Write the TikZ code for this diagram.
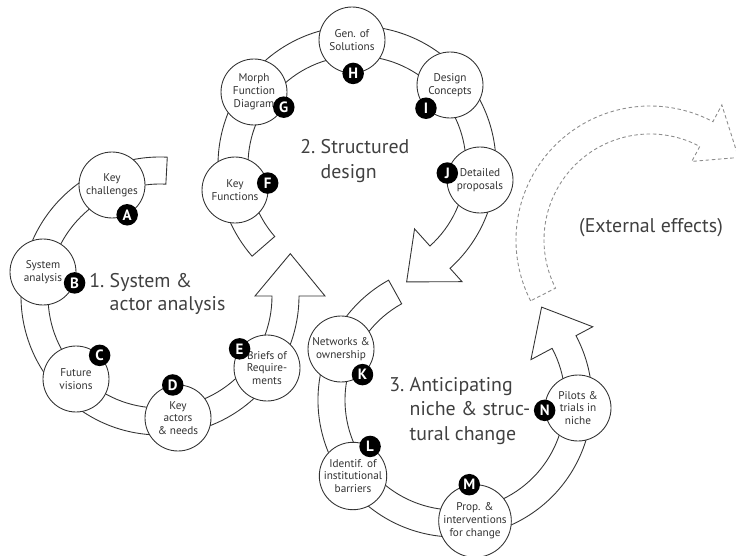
\documentclass[tikz,border=0pt]{standalone}
\usepackage{fontspec}
\setmainfont{PT Sans}

\begin{document}
\begin{tikzpicture}[x=0.02cm, y=0.02cm,
    stage/.style={circle, draw=black!80, fill=white, line width=0.5pt, minimum size=1.32cm, inner sep=0pt, align=center, text=black!80, font=\fontsize{6.4}{7.3}\selectfont},
    badge/.style={circle, fill=black, text=white, minimum size=0.43cm, inner sep=0pt, font=\bfseries\fontsize{8.5}{8.5}\selectfont},
    band/.style={draw=black!80, fill=white, line width=0.5pt},
    title/.style={align=left, anchor=west, inner sep=0pt, text=black!75, font=\fontsize{11.3}{14.2}\selectfont}]
            \useasboundingbox (0,0) rectangle (736,555);
            \clip (0,0) rectangle (736,555);

            %Arrows
            \draw[band, shift={(160,259)}] (87:139) arc[start angle=87, end angle=360, radius=139] -- (0:165) -- (18:137) -- (0:95) -- (0:112) arc[start angle=360, end angle=87, radius=112] -- cycle;
            \draw[band, shift={(357,390)}] (221:139) arc[start angle=221, end angle=-48, radius=139] -- (-48:157) -- (-67:127) -- (-48:86) -- (-48:109) arc[start angle=-48, end angle=221, radius=109] -- cycle;
            \draw[band, shift={(455,155)}] (119:137) arc[start angle=119, end angle=388, radius=137] -- (388:156) -- (407:127) -- (388:86) -- (388:110) arc[start angle=388, end angle=119, radius=110] -- cycle;
            \draw[band, draw=black!45, dash pattern=on 2pt off 1.5pt, shift={(650,315)}] (207:134) arc[start angle=207, end angle=62, radius=134] -- (62:153) -- (43:121) -- (62:89) -- (62:106) arc[start angle=62, end angle=207, radius=106] -- cycle;

            %Nodes
            \node[stage] (A) at (112,370) {Key\\challenges};
            \node[stage] (B) at (43,283) {System\\analysis};
            \node[stage] (C) at (76,176) {Future\\visions};
            \node[stage] (D) at (178,137) {Key\\actors\\\& needs};
            \node[stage] (E) at (267,187) {Briefs of\\Require-\\ments};
            \node[stage] (F) at (235,365) {Key\\Functions};
            \node[stage] (G) at (254,463) {Morph\\Function\\Diagram};
            \node[stage] (H) at (352,515) {Gen. of\\Solutions};
            \node[stage] (I) at (450,470) {Design\\Concepts};
            \node[stage] (J) at (480,375) {Detailed\\proposals};
            \node[stage] (K) at (341,206) {Networks \&\\ownership};
            \node[stage] (L) at (353,79) {Identif. of\\institutional\\barriers};
            \node[stage] (M) at (475,34) {Prop. \&\\interventions\\for change};
            \node[stage] (N) at (578,147) {Pilots \&\\trials in\\niche};

            %Letters
            \node[badge] (bA) at (A.-63) {A};
            \node[badge] (bB) at (B.-19) {B};
            \node[badge] (bC) at (C.45) {C};
            \node[badge] (bD) at (D.99) {D};
            \node[badge] (bE) at (E.145) {E};
            \node[badge] (bF) at (F.12) {F};
            \node[badge] (bG) at (G.-27) {G};
            \node[badge] (bH) at (H.-88) {H};
            \node[badge] (bI) at (I.-136) {I};
            \node[badge] (bJ) at (J.168) {J};
            \node[badge] (bK) at (K.-50) {K};
            \node[badge] (bL) at (L.60) {L};
            \node[badge] (bM) at (M.99) {M};
            \node[badge] (bN) at (N.184) {N};

            %Labels
            \node[title, font=\fontsize{11.3}{12.6}\selectfont] (phase1) at (89,261) {1.~System \&\\\hphantom{1.~}actor analysis};
            \node[title] (phase2) at (300,394) {2.~Structured\\\hphantom{2.~}design};
            \node[title] (phase3) at (389,144) {3.~Anticipating\\\hphantom{3.~}niche \& struc-\\\hphantom{3.~}tural change};
            \node[title, anchor=center] (external) at (651,327) {(External effects)};
        \end{tikzpicture}
\end{document}
